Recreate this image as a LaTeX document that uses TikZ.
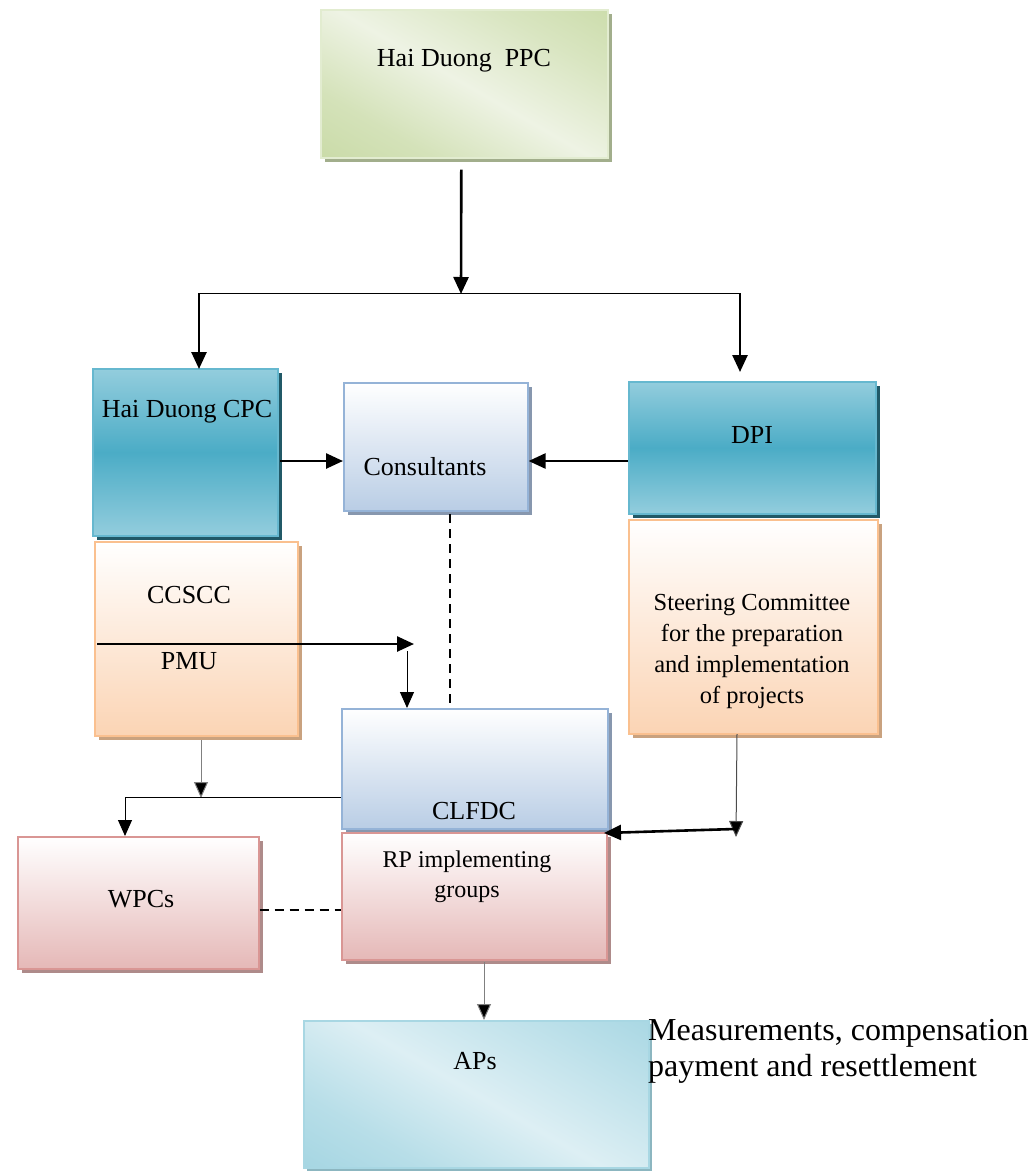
\documentclass[tikz,border=0pt]{standalone}
\usepackage{fontspec}
\setmainfont{Liberation Serif}
\newfontfamily\tnr{Liberation Serif}
\usetikzlibrary{arrows.meta,shadows}
\definecolor{ppcA}{HTML}{BFD496}
\definecolor{ppcB}{HTML}{EEF3E4}
\definecolor{tealL}{HTML}{93CDDD}
\definecolor{tealM}{HTML}{4BACC6}
\definecolor{tealS}{HTML}{215967}
\definecolor{blueB}{HTML}{B9CDE5}
\definecolor{blueD}{HTML}{95B3D7}
\definecolor{blueS}{HTML}{8797AE}
\definecolor{orB}{HTML}{FBD4B4}
\definecolor{orD}{HTML}{FAC08F}
\definecolor{orS}{HTML}{C9A27F}
\definecolor{pkB}{HTML}{E5B8B7}
\definecolor{pkD}{HTML}{D99694}
\definecolor{pkS}{HTML}{AE8B8A}
\definecolor{apA}{HTML}{92CDDC}
\definecolor{apB}{HTML}{DDEFF4}
\pgfdeclarehorizontalshading{greenband}{100bp}{color(0bp)=(ppcA); color(30bp)=(ppcA!55!ppcB); color(50bp)=(ppcB); color(70bp)=(ppcA!45!ppcB); color(100bp)=(ppcA)}
\pgfdeclarehorizontalshading{cyanband}{100bp}{color(0bp)=(apA); color(30bp)=(apA!50!apB); color(50bp)=(apB); color(70bp)=(apA!40!apB); color(100bp)=(apA)}
\tikzset{
  box/.style={rectangle, anchor=north west, inner sep=0pt, line width=1.6pt},
  ppcbox/.style={box, draw=ppcA!45!white, shading=greenband, shading angle=60,
    general shadow={fill=ppcA!55!gray, shadow xshift=4pt, shadow yshift=-4pt}},
  tealbox/.style={box, draw=tealM!85!white, top color=tealL, bottom color=tealL, middle color=tealM,
    general shadow={fill=tealS, shadow xshift=4pt, shadow yshift=-4pt}},
  bluebox/.style={box, draw=blueD, top color=white, bottom color=blueB,
    general shadow={fill=blueS, shadow xshift=4pt, shadow yshift=-4pt}},
  orbox/.style={box, draw=orD, top color=white, bottom color=orB,
    general shadow={fill=orS, shadow xshift=4pt, shadow yshift=-4pt}},
  pkbox/.style={box, draw=pkD, top color=white, bottom color=pkB,
    general shadow={fill=pkS, shadow xshift=4pt, shadow yshift=-4pt}},
  apbox/.style={box, draw=apA!80!white, shading=cyanband, shading angle=60,
    general shadow={fill=apA!70!gray, shadow xshift=3pt, shadow yshift=-3pt}},
  lbl/.style={font=\tnr\fontsize{26}{31}\selectfont, align=center, inner sep=0pt},
  arr/.style={-{Triangle[length=17pt,width=15pt]}, line width=2.6pt},
  tarr/.style={-{Triangle[length=16pt,width=14pt,fill=black]}, line width=1pt},
  dsh/.style={dashed, dash pattern=on 9pt off 6pt, line width=2pt},
}
\begin{document}
\begin{tikzpicture}[x=1pt,y=-1pt]
\useasboundingbox (0,0) rectangle (1032,1173);
% boxes
\node[ppcbox, minimum width=287pt, minimum height=148pt] (ppc) at (320,9) {};
\node[tealbox, minimum width=185pt, minimum height=167pt] (cpc) at (92,368) {};
\node[bluebox, minimum width=184pt, minimum height=128pt] (cons) at (343,382) {};
\node[tealbox, minimum width=247pt, minimum height=132pt] (dpi) at (628,381) {};
\node[orbox, minimum width=203pt, minimum height=194pt] (ccscc) at (94,541) {};
\node[orbox, minimum width=249pt, minimum height=214pt] (steer) at (628,519) {};
\node[bluebox, minimum width=266pt, minimum height=120pt] (clfdc) at (341,708) {};
\node[pkbox, minimum width=265pt, minimum height=127pt] (rp) at (341,832) {};
\node[pkbox, minimum width=241pt, minimum height=132pt] (wpc) at (17,836) {};
\node[apbox, minimum width=345pt, minimum height=147pt] (aps) at (303,1020) {};
% texts
\node[lbl] (ppct) at (464,61) {Hai Duong\ \ PPC};
\node[lbl] (cpct) at (187,412) {Hai Duong CPC};
\node[lbl] (const) at (425,467) {Consultants};
\node[lbl] (dpit) at (752,435) {DPI};
\node[lbl] (ccscct) at (189,595) {CCSCC};
\node[lbl] (pmut) at (189,661) {PMU};
\node[lbl, font=\tnr\fontsize{24.5}{31}\selectfont] (steert) at (752,651) {Steering Committee\\for the preparation\\and implementation\\of projects};
\node[lbl] (clfdct) at (474,811) {CLFDC};
\node[lbl] (wpct) at (141,899) {WPCs};
\node[lbl, font=\tnr\fontsize{24}{30}\selectfont] (rpt) at (467,877) {RP implementing\\groups};
\node[lbl] (apst) at (475,1061) {APs};
\node[anchor=west, align=left, inner sep=0pt, font=\tnr\fontsize{32}{36}\selectfont] (meas) at (648,1051) {Measurements, compensation\\payment and resettlement};
% connectors
\coordinate (jc) at (461,294);
\coordinate (jl) at (199,293);
\coordinate (jr) at (740,293);
\draw[arr] ([xshift=-3pt,yshift=-11pt]ppc.south) -- (jc);
\draw[line width=1pt] (jl) -- (jr);
\draw[arr] (jl) -- (199,369);
\draw[arr] (jr) -- (740,372);
\draw[arr] (280,461) -- (cons.west |- 0,461);
\draw[arr] (dpi.west |- 0,461) -- (cons.east |- 0,461);
\coordinate (pa) at (97,644);
\coordinate (pb) at (414,644);
\draw[arr] (pa) -- (pb);
\draw[tarr] (407,651) -- (clfdc.north -| 407,0);
\draw[dsh] (450,514) -- (450,704);
\coordinate (gl) at (125,797);
\draw[tarr, draw=gray] (201,740) -- (201,798);
\draw[line width=1pt] (gl) -- (clfdc.west |- gl);
\draw[tarr] (gl) -- (wpc.north -| gl);
\coordinate (sr) at (736,837);
\draw[tarr, draw=black!70] (737,734) -- (sr);
\draw[arr] (735,829) -- (604,833);
\draw[dsh] (wpc.east |- 0,910) -- (rp.west |- 0,910);
\draw[tarr, draw=gray] (484,962) -- (aps.north -| 484,0);
\end{tikzpicture}
\end{document}
